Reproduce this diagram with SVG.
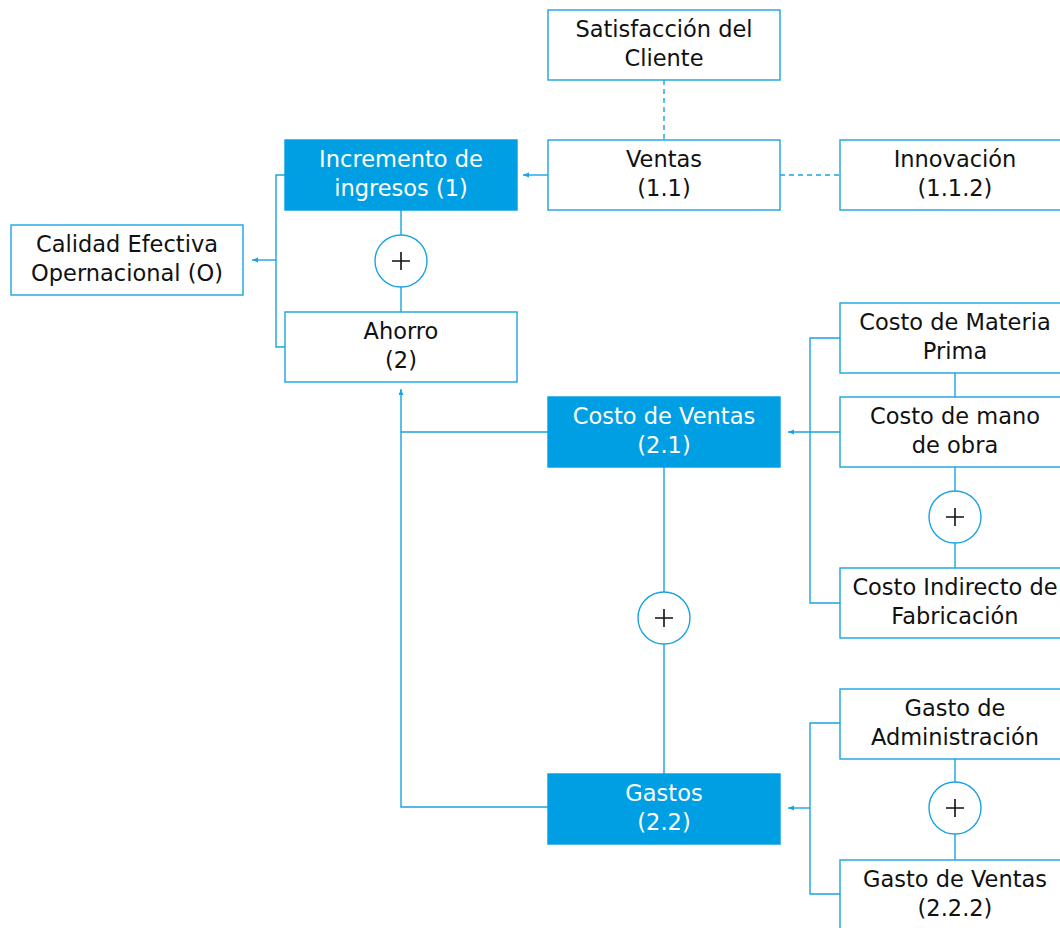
<svg xmlns="http://www.w3.org/2000/svg" width="1060" height="928" viewBox="0 0 1060 928">
<style>
.box{fill:#fff;stroke:#1aa3e2;stroke-width:1.4}
.fbox{fill:#009fe3;stroke:#009fe3;stroke-width:1.4}
.t{font-family:"DejaVu Sans",sans-serif;font-size:22.5px;fill:#111;text-anchor:middle}
.tw{font-family:"DejaVu Sans",sans-serif;font-size:22.5px;fill:#fff;text-anchor:middle}
.ln{fill:none;stroke:#1aa3e2;stroke-width:1.4}
.dash{fill:none;stroke:#1aa3e2;stroke-width:1.4;stroke-dasharray:5,4}
.circ{fill:#fff;stroke:#1aa3e2;stroke-width:1.4}
.plus{fill:none;stroke:#111;stroke-width:1.6}
</style>
<defs>
<marker id="ah" viewBox="0 0 10 10" refX="10" refY="5" markerWidth="6" markerHeight="6" orient="auto" markerUnits="userSpaceOnUse">
<path d="M0,1 L10,5 L0,9 Z" fill="#1aa3e2"/>
</marker>
</defs>
<rect width="1060" height="928" fill="#fff"/>
<g id="connectors">
<path class="dash" d="M664,80 V140"/>
<path class="dash" d="M780,175 H840"/>
<path class="ln" d="M548,175 H523" marker-end="url(#ah)"/>
<path class="ln" d="M285,175 H276 V347 H285"/>
<path class="ln" d="M276,260 H252" marker-end="url(#ah)"/>
<path class="ln" d="M401,210 V235 M401,287 V312"/>
<path class="ln" d="M548,432 H401 M548,807 H401 V389" marker-end="url(#ah)"/>
<path class="ln" d="M664,467 V592 M664,644 V774"/>
<path class="ln" d="M840,338 H810 V603 H840"/>
<path class="ln" d="M840,432 H788" marker-end="url(#ah)"/>
<path class="ln" d="M955,373 V397 M955,467 V491 M955,543 V568"/>
<path class="ln" d="M840,723 H810 V894 H840"/>
<path class="ln" d="M810,808 H788" marker-end="url(#ah)"/>
<path class="ln" d="M955,759 V782 M955,834 V860"/>
</g>
<g id="satisfaccion"><rect class="box" x="548" y="10" width="232" height="70"/><text class="t" x="664" y="37">Satisfacción del</text><text class="t" x="664" y="66">Cliente</text></g>
<g id="ventas"><rect class="box" x="548" y="140" width="232" height="70"/><text class="t" x="664" y="167">Ventas</text><text class="t" x="664" y="196">(1.1)</text></g>
<g id="innovacion"><rect class="box" x="840" y="140" width="232" height="70"/><text class="t" x="955" y="167">Innovación</text><text class="t" x="955" y="196">(1.1.2)</text></g>
<g id="incremento"><rect class="fbox" x="285" y="140" width="232" height="70"/><text class="tw" x="401" y="167">Incremento de</text><text class="tw" x="401" y="196">ingresos (1)</text></g>
<g id="calidad"><rect class="box" x="11" y="225" width="232" height="70"/><text class="t" x="127" y="252">Calidad Efectiva</text><text class="t" x="127" y="281">Opernacional (O)</text></g>
<g id="plus1"><circle class="circ" cx="401" cy="261" r="26"/><path class="plus" d="M392,261 H410 M401,252 V270"/></g>
<g id="ahorro"><rect class="box" x="285" y="312" width="232" height="70"/><text class="t" x="401" y="339">Ahorro</text><text class="t" x="401" y="368">(2)</text></g>
<g id="costo-ventas"><rect class="fbox" x="548" y="397" width="232" height="70"/><text class="tw" x="664" y="424">Costo de Ventas</text><text class="tw" x="664" y="453">(2.1)</text></g>
<g id="materia"><rect class="box" x="840" y="303" width="232" height="70"/><text class="t" x="955" y="330">Costo de Materia</text><text class="t" x="955" y="359">Prima</text></g>
<g id="mano-obra"><rect class="box" x="840" y="397" width="232" height="70"/><text class="t" x="955" y="424">Costo de mano</text><text class="t" x="955" y="453">de obra</text></g>
<g id="plus2"><circle class="circ" cx="955" cy="517" r="26"/><path class="plus" d="M946,517 H964 M955,508 V526"/></g>
<g id="indirecto"><rect class="box" x="840" y="568" width="232" height="70"/><text class="t" x="955" y="595">Costo Indirecto de</text><text class="t" x="955" y="624">Fabricación</text></g>
<g id="plus3"><circle class="circ" cx="664" cy="618" r="26"/><path class="plus" d="M655,618 H673 M664,609 V627"/></g>
<g id="gastos"><rect class="fbox" x="548" y="774" width="232" height="70"/><text class="tw" x="664" y="801">Gastos</text><text class="tw" x="664" y="830">(2.2)</text></g>
<g id="gasto-admin"><rect class="box" x="840" y="689" width="232" height="70"/><text class="t" x="955" y="716">Gasto de</text><text class="t" x="955" y="745">Administración</text></g>
<g id="plus4"><circle class="circ" cx="955" cy="808" r="26"/><path class="plus" d="M946,808 H964 M955,799 V817"/></g>
<g id="gasto-ventas"><rect class="box" x="840" y="860" width="232" height="70"/><text class="t" x="955" y="887">Gasto de Ventas</text><text class="t" x="955" y="916">(2.2.2)</text></g>
</svg>
